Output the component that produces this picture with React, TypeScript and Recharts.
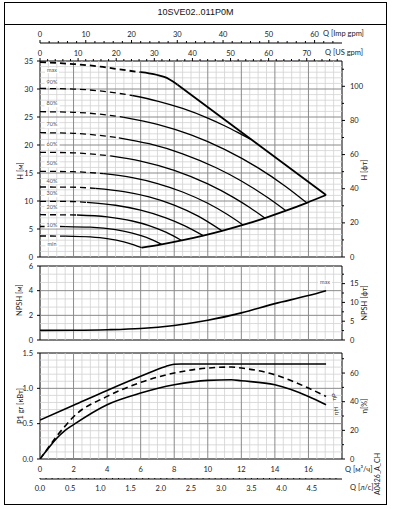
import React from 'react';
import { ComposedChart, Line, XAxis, YAxis, ReferenceLine, ReferenceArea } from 'recharts';

const FONT = 'Lato, "Open Sans", sans-serif';
const MAJOR = '#8a8a8a';
const MINOR = '#d2d2d2';
const TXT = '#222';

// head curves: Q [m3/h] / H [m], dashed up to the DASH_END flow
const Q_MAX = [0, 2, 3.6, 4.5, 6.0, 6.5, 7.0, 7.4, 7.7, 7.95, 8.2];
const H_MAX = [34.8, 34.45, 34.0, 33.6, 33.0, 32.8, 32.5, 32.15, 31.75, 31.3, 30.75];
const Q_90 = [0, 2, 4, 5.5, 7, 8.5, 10, 11, 12, 12.6];
const H_90 = [30.1, 29.99, 29.51, 28.84, 27.85, 26.52, 24.8, 23.44, 21.9, 20.95];
const Q_80 = [0, 2, 4, 5, 7, 9, 11, 13, 14.6, 15.9];
const H_80 = [25.95, 25.84, 25.36, 24.94, 23.68, 21.8, 19.22, 15.91, 12.69, 9.68];
const Q_70 = [0, 2, 4.7, 6.5, 8.5, 10.5, 12, 13.5, 14.66];
const H_70 = [22.2, 22.08, 21.29, 20.23, 18.43, 15.94, 13.58, 10.77, 8.27];
const Q_60 = [0, 2, 4.2, 6, 8, 10, 11.5, 12.5, 13.4];
const H_60 = [18.7, 18.6, 18.05, 17.12, 15.47, 13.05, 10.69, 8.83, 6.96];
const Q_50 = [0, 2, 3.8, 5.5, 7, 8.5, 10, 11.1, 12.1];
const H_50 = [15.3, 15.23, 14.88, 14.16, 13.12, 11.61, 9.59, 7.72, 5.73];
const Q_40 = [0, 1.8, 3.3, 5, 6.5, 8, 9.4, 10.85];
const H_40 = [12.5, 12.48, 12.25, 11.67, 10.73, 9.27, 7.34, 4.67];
const Q_30 = [0, 1.5, 2.8, 4.5, 6, 7.5, 8.6, 9.73];
const H_30 = [9.95, 9.93, 9.76, 9.24, 8.36, 6.99, 5.61, 3.82];
const Q_20 = [0, 1.2, 2.2, 4, 5.5, 6.5, 7.5, 8.44];
const H_20 = [7.55, 7.54, 7.5, 7.16, 6.43, 5.61, 4.43, 2.95];
const Q_10 = [0, 1.5, 3, 4.5, 5.5, 6.3, 7.25];
const H_10 = [5.45, 5.44, 5.32, 4.87, 4.27, 3.53, 2.26];
const Q_MIN = [0, 1.5, 3, 4, 5, 5.6, 6.06];
const H_MIN = [3.75, 3.74, 3.58, 3.28, 2.71, 2.18, 1.67];
const DASH_END = [6.0, 5.5, 5.0, 4.7, 4.2, 3.8, 3.3, 2.8, 2.2, 1.5, 1.5];
const SPEED_LABELS = ['max', '90%', '80%', '70%', '60%', '50%', '40%', '30%', '20%', '10%', 'min'];
const LABEL_Y = [70.5, 83, 104, 125, 145, 164, 181.5, 194, 208, 225.5, 244.5];

// power limit and lower operating limit
const Q_PLIM = [8.2, 17.05];
const H_PLIM = [30.75, 11.07];
const Q_LOW = [6.06, 7.25, 8.44, 9.73, 10.85, 12.1, 13.4, 14.66, 15.9, 17.05];
const H_LOW = [1.67, 2.26, 2.95, 3.82, 4.67, 5.73, 6.96, 8.27, 9.68, 11.07];

// NPSH [m]
const Q_NPSH = [0, 2, 4, 6, 8, 10, 12, 14, 16, 17.05];
const NPSH = [0.78, 0.79, 0.83, 0.93, 1.18, 1.6, 2.2, 2.95, 3.6, 4.0];

// P1 [kW] and efficiencies [%]
const Q_P1 = [0, 2, 4, 6, 7.5, 8.0, 8.4, 17.05];
const P1 = [0.55, 0.76, 0.97, 1.17, 1.31, 1.34, 1.345, 1.345];
const Q_ETA = [0, 0.5, 1.0, 1.5, 2, 4, 6, 8, 10, 11.4, 12, 14, 16, 17.05];
const ETA_P = [0, 8, 16, 23, 29.5, 43.7, 53.5, 60, 63.5, 64.2, 63.5, 58.8, 49.5, 43.7];
const ETA_H = [0, 7.5, 14.5, 20, 24, 37.9, 46, 51.8, 54.9, 55.3, 54.6, 51.8, 43.7, 37.9];

const range = (a: number, b: number, s: number) => {
  const out: number[] = [];
  for (let i = 0; a + i * s <= b + 1e-9; i++) out.push(Math.round((a + i * s) * 1000) / 1000);
  return out;
};
const pts = (qs: number[], vs: number[]) => qs.map((q, i) => ({ q, v: vs[i] }));

const V_MAJOR = range(2, 16, 2);
const V_MINOR = range(0.5, 17.5, 0.5).filter((v) => v % 2 !== 0);

const HEAD = [
  [Q_MAX, H_MAX], [Q_90, H_90], [Q_80, H_80], [Q_70, H_70], [Q_60, H_60], [Q_50, H_50],
  [Q_40, H_40], [Q_30, H_30], [Q_20, H_20], [Q_10, H_10], [Q_MIN, H_MIN],
];

const US_DOMAIN = 18 / 0.227125;
const IMP_DOMAIN = 18 / 0.272765;
const LS_DOMAIN = 18 / 3.6;
const FT_H = 35 * 3.28084;
const FT_NPSH = 6 * 3.28084;

function LeftTick(p: any) {
  const { x, y, payload } = p;
  return (
    <g>
      <line x1={x - 3} x2={x} y1={y} y2={y} stroke="#000" />
      <text x={x - 7} y={y + 2.5} textAnchor="end" fontSize={7.5} fill={TXT} fontFamily={FONT}>
        {p.fmt ? p.fmt(payload.value) : payload.value}
      </text>
    </g>
  );
}

function RightTick(p: any) {
  const { x, y, payload, every } = p;
  const major = Math.round(payload.value) % every === 0;
  return (
    <g>
      <line x1={x} x2={x + (major ? 3 : 2)} y1={y} y2={y} stroke="#000" />
      {major && (
        <text x={x + 8} y={y + 2.5} textAnchor="start" fontSize={7.5} fill={TXT} fontFamily={FONT}>
          {payload.value}
        </text>
      )}
    </g>
  );
}

function TopTick(p: any) {
  const { x, y, payload, up } = p;
  const major = payload.value % 10 === 0;
  return (
    <g>
      <line x1={x} x2={x} y1={y} y2={y - (major ? 3 : 2)} stroke="#000" />
      {major && (
        <text x={x} y={y - up} textAnchor="middle" fontSize={7.5} fill={TXT} fontFamily={FONT}>
          {payload.value}
        </text>
      )}
    </g>
  );
}

function BottomTick(p: any) {
  const { x, y, payload } = p;
  return (
    <text x={x} y={y + 13} textAnchor="middle" fontSize={7.5} fill={TXT} fontFamily={FONT}>
      {payload.value}
    </text>
  );
}

function LsTick(p: any) {
  const { x, y, payload } = p;
  const major = Math.round(payload.value * 10) % 5 === 0;
  return (
    <g>
      <line x1={x} x2={x} y1={y} y2={y - (major ? 3 : 2)} stroke="#000" />
      {major && (
        <text x={x} y={y + 11.5} textAnchor="middle" fontSize={7.5} fill={TXT} fontFamily={FONT}>
          {payload.value.toFixed(1)}
        </text>
      )}
    </g>
  );
}

// a lone secondary Q axis (own tiny chart so it gets a domain and a fixed place)
function AxisStrip({ top, orient, max, ticks, tick, line }: any) {
  const data = [{ x: 0, v: 0 }, { x: max, v: 0 }];
  const isTop = orient === 'top';
  return (
    <div style={{ position: 'absolute', left: 0, top }}>
      <ComposedChart width={394} height={19} data={data} margin={{ top: isTop ? 0 : 1, right: 52, bottom: isTop ? 1 : 0, left: 40 }}>
        <XAxis dataKey="x" type="number" orientation={orient} domain={[0, max]} allowDataOverflow ticks={ticks} interval={0} height={18} tickSize={0} tickMargin={0} axisLine={line ? { stroke: '#000' } : false} tick={tick} />
        <YAxis hide domain={[0, 1]} />
        <Line dataKey="v" stroke="none" dot={false} isAnimationActive={false} />
      </ComposedChart>
    </div>
  );
}

function grid(yId: string, hMajor: number[], hMinor: number[]) {
  return [
    ...V_MINOR.map((v) => <ReferenceLine key={'vm' + v} xAxisId="q" yAxisId={yId} x={v} stroke={MINOR} strokeWidth={0.8} />),
    ...hMinor.map((v) => <ReferenceLine key={'hm' + v} xAxisId="q" yAxisId={yId} y={v} stroke={MINOR} strokeWidth={0.8} />),
    ...V_MAJOR.map((v) => <ReferenceLine key={'vM' + v} xAxisId="q" yAxisId={yId} x={v} stroke={MAJOR} strokeWidth={1} />),
    ...hMajor.map((v) => <ReferenceLine key={'hM' + v} xAxisId="q" yAxisId={yId} y={v} stroke={MAJOR} strokeWidth={1} />),
  ];
}

const Rot = ({ x, y, children, size = 7.5 }: any) => (
  <div
    style={{
      position: 'absolute', left: x, top: y, transform: 'translate(-50%,-50%) rotate(-90deg)',
      whiteSpace: 'nowrap', fontSize: size, fontFamily: FONT, color: TXT, lineHeight: 1,
    }}
  >
    {children}
  </div>
);

const Txt = ({ x, y, children, size = 7.5 }: any) => (
  <div style={{ position: 'absolute', left: x, top: y - size * 0.65, whiteSpace: 'nowrap', fontSize: size, fontFamily: FONT, color: TXT, lineHeight: 1.3 }}>
    {children}
  </div>
);

export default function App() {
  const H_MAJOR = range(5, 30, 5);
  const H_MINOR = range(1, 34, 1).filter((v) => v % 5 !== 0);
  const N_MAJOR = [2, 4];
  const N_MINOR = [0.667, 1.333, 2.667, 3.333, 4.667, 5.333];
  const P_MAJOR = [0.5, 1.0];
  const P_MINOR = range(0.1, 1.4, 0.1).filter((v) => Math.round(v * 10) % 5 !== 0);

  return (
    <div style={{ position: 'absolute', left: 0, top: 0, width: 394, height: 509, background: '#fff', overflow: 'hidden' }}>
      <div style={{ position: 'absolute', left: 4, top: 2, width: 383, height: 503, border: '1px solid #000', boxSizing: 'border-box' }} />
      <div style={{ position: 'absolute', left: 4, top: 24, width: 383, height: 1, background: '#000' }} />
      <div style={{ position: 'absolute', left: 4, width: 383, top: 7, textAlign: 'center', fontSize: 9, fontFamily: '"Liberation Sans", Arial, sans-serif', color: '#111' }}>
        10SVE02..011P0M
      </div>

      {/* H chart */}
      <div style={{ position: 'absolute', left: 0, top: 0 }}>
        <ComposedChart width={394} height={262} margin={{ top: 61, right: 0, bottom: 5, left: 0 }}>
          <XAxis xAxisId="q" dataKey="q" type="number" domain={[0, 18]} hide allowDataOverflow />
          <YAxis yAxisId="m" type="number" domain={[0, 35]} allowDataOverflow ticks={range(0, 35, 5)} interval={0} width={40} tickSize={0} tickMargin={0} axisLine={false} tick={<LeftTick />} />
          <YAxis yAxisId="ft" orientation="right" type="number" domain={[0, FT_H]} allowDataOverflow ticks={range(0, 110, 10)} interval={0} width={52} tickSize={0} tickMargin={0} axisLine={false} tick={<RightTick every={20} />} />
          {grid('m', H_MAJOR, H_MINOR)}
          {HEAD.map(([qs, hs], i) => {
            const all = pts(qs, hs);
            const dashed = all.filter((d) => d.q <= DASH_END[i] + 1e-9);
            const solid = all.filter((d) => d.q >= DASH_END[i] - 1e-9);
            const w = i === 0 ? 1.8 : 1.3;
            return [
              <Line key={'d' + i} xAxisId="q" yAxisId="m" data={dashed} dataKey="v" type="monotone" stroke="#000" strokeWidth={w} strokeDasharray="6 4" dot={false} isAnimationActive={false} />,
              <Line key={'s' + i} xAxisId="q" yAxisId="m" data={solid} dataKey="v" type="monotone" stroke="#000" strokeWidth={w} dot={false} isAnimationActive={false} />,
            ];
          })}
          <Line xAxisId="q" yAxisId="m" data={pts(Q_PLIM, H_PLIM)} dataKey="v" type="linear" stroke="#000" strokeWidth={1.8} dot={false} isAnimationActive={false} />
          <Line xAxisId="q" yAxisId="m" data={pts(Q_LOW, H_LOW)} dataKey="v" type="monotone" stroke="#000" strokeWidth={1.8} dot={false} isAnimationActive={false} />
          <ReferenceArea xAxisId="q" yAxisId="m" x1={0} x2={18} y1={0} y2={35} fill="none" stroke="#000" strokeWidth={1} />
        </ComposedChart>
      </div>

      <AxisStrip top={25} orient="top" max={IMP_DOMAIN} ticks={range(0, 64, 2)} tick={<TopTick up={6.5} />} line />
      <AxisStrip top={43} orient="top" max={US_DOMAIN} ticks={range(0, 78, 2)} tick={<TopTick up={5.5} />} line={false} />

      {/* NPSH chart */}
      <div style={{ position: 'absolute', left: 0, top: 258 }}>
        <ComposedChart width={394} height={87} margin={{ top: 8, right: 0, bottom: 5, left: 0 }}>
          <XAxis xAxisId="q" dataKey="q" type="number" domain={[0, 18]} hide allowDataOverflow />
          <YAxis yAxisId="m" type="number" domain={[0, 6]} allowDataOverflow ticks={[0, 2, 4, 6]} interval={0} width={40} tickSize={0} tickMargin={0} axisLine={false} tick={<LeftTick />} />
          <YAxis yAxisId="ft" orientation="right" type="number" domain={[0, FT_NPSH]} allowDataOverflow ticks={range(0, 17.5, 2.5)} interval={0} width={52} tickSize={0} tickMargin={0} axisLine={false} tick={<RightTick every={5} />} />
          {grid('m', N_MAJOR, N_MINOR)}
          <Line xAxisId="q" yAxisId="m" data={pts(Q_NPSH, NPSH)} dataKey="v" type="monotone" stroke="#000" strokeWidth={1.6} dot={false} isAnimationActive={false} />
          <ReferenceArea xAxisId="q" yAxisId="m" x1={0} x2={18} y1={0} y2={6} fill="none" stroke="#000" strokeWidth={1} />
        </ComposedChart>
      </div>

      {/* P1 / efficiency chart */}
      <div style={{ position: 'absolute', left: 0, top: 345 }}>
        <ComposedChart width={394} height={134} margin={{ top: 8, right: 0, bottom: 0, left: 0 }}>
          <XAxis xAxisId="q" dataKey="q" type="number" domain={[0, 18]} allowDataOverflow ticks={range(0, 16, 2)} interval={0} height={20} tickSize={0} tickMargin={0} axisLine={false} tick={<BottomTick />} />
          <YAxis yAxisId="kw" type="number" domain={[0, 1.5]} allowDataOverflow ticks={[0, 0.5, 1, 1.5]} interval={0} width={40} tickSize={0} tickMargin={0} axisLine={false} tick={<LeftTick fmt={(v: number) => v.toFixed(1)} />} />
          <YAxis yAxisId="eta" orientation="right" type="number" domain={[0, 74]} allowDataOverflow ticks={range(0, 70, 10)} interval={0} width={52} tickSize={0} tickMargin={0} axisLine={false} tick={<RightTick every={20} />} />
          {grid('kw', P_MAJOR, P_MINOR)}
          <Line xAxisId="q" yAxisId="kw" data={pts(Q_P1, P1)} dataKey="v" type="monotone" stroke="#000" strokeWidth={1.6} dot={false} isAnimationActive={false} />
          <Line xAxisId="q" yAxisId="eta" data={pts(Q_ETA, ETA_P)} dataKey="v" type="monotone" stroke="#000" strokeWidth={1.6} strokeDasharray="6 4" dot={false} isAnimationActive={false} />
          <Line xAxisId="q" yAxisId="eta" data={pts(Q_ETA, ETA_H)} dataKey="v" type="monotone" stroke="#000" strokeWidth={1.6} dot={false} isAnimationActive={false} />
          <ReferenceArea xAxisId="q" yAxisId="kw" x1={0} x2={18} y1={0} y2={1.5} fill="none" stroke="#000" strokeWidth={1} />
        </ComposedChart>
      </div>

      <AxisStrip top={478} orient="bottom" max={LS_DOMAIN} ticks={range(0, 4.9, 0.1)} tick={<LsTick />} line />

      {/* speed labels */}
      {SPEED_LABELS.map((s, i) => (
        <div key={s} style={{ position: 'absolute', left: 52, top: LABEL_Y[i], transform: 'translate(-50%,-50%)', background: '#fff', padding: '0 2px', fontSize: 5.5, fontFamily: FONT, color: '#555', lineHeight: 1 }}>
          {s}
        </div>
      ))}
      <div style={{ position: 'absolute', left: 325, top: 283, transform: 'translate(-50%,-50%)', background: '#fff', padding: '0 2px', fontSize: 5.5, fontFamily: FONT, color: '#555', lineHeight: 1 }}>
        max
      </div>

      {/* axis titles */}
      <Txt x={323} y={34}>Q [Imp gpm]</Txt>
      <Txt x={325} y={53}>Q [US gpm]</Txt>
      <Txt x={345} y={470}>Q [м³/ч]</Txt>
      <Txt x={350} y={488}>Q [л/с]</Txt>
      <Rot x={20.5} y={171}>H [м]</Rot>
      <Rot x={365} y={170}>H [фт]</Rot>
      <Rot x={19.5} y={300}>NPSH [м]</Rot>
      <Rot x={365} y={303}>NPSH [фт]</Rot>
      <Rot x={21} y={406}>P1 gr [кВт]</Rot>
      <Rot x={365} y={406}>η[%]</Rot>
      <Rot x={377} y={474} size={7}>A0426_A_CH</Rot>
      <Rot x={334} y={397} size={6}>ηP</Rot>
      <Rot x={336} y={411} size={6}>ηH</Rot>
    </div>
  );
}
